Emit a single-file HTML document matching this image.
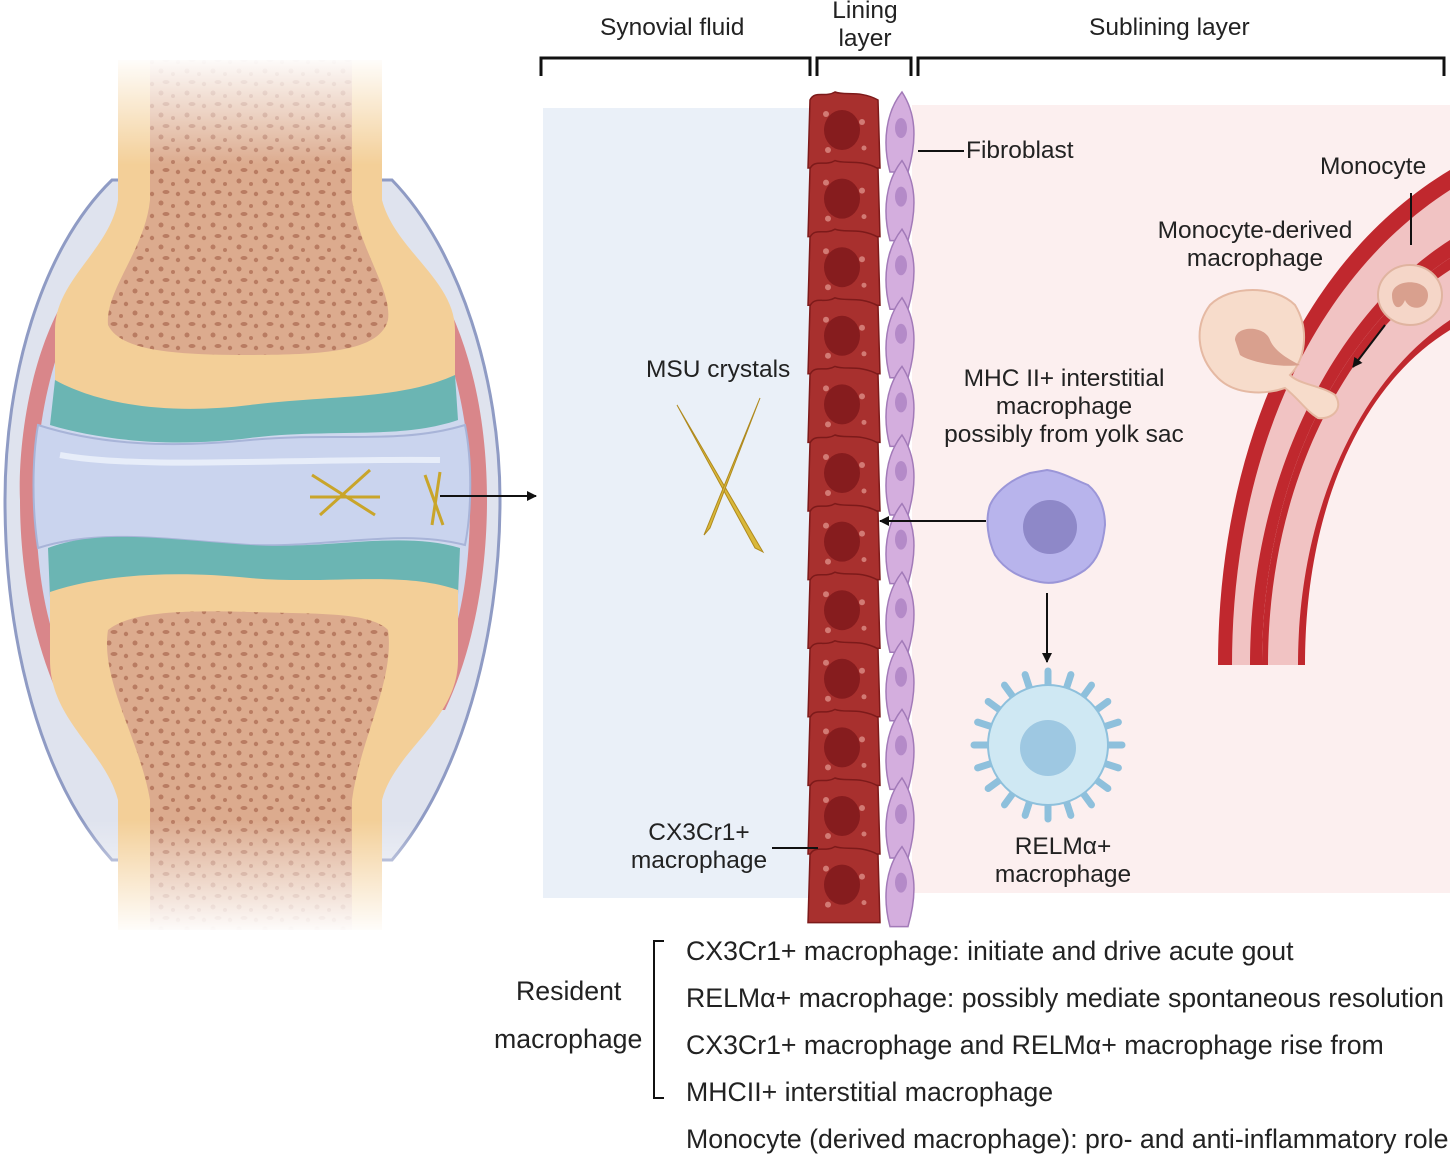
<!DOCTYPE html>
<html><head><meta charset="utf-8"><style>
html,body{margin:0;padding:0;background:#fff;}
body{width:1456px;height:1156px;overflow:hidden;position:relative;font-family:"Liberation Sans",sans-serif;color:#222;}
svg{position:absolute;left:0;top:0;}
.t{position:absolute;font-size:24.5px;line-height:28px;white-space:nowrap;color:#222;}
.c{text-align:center;}
.b{position:absolute;font-size:26.7px;white-space:nowrap;color:#222;}
</style></head><body>
<svg id="s" width="1456" height="1156" viewBox="0 0 1456 1156">
<defs>
<linearGradient id="fadeT" x1="0" y1="0" x2="0" y2="1"><stop offset="0" stop-color="#fff" stop-opacity="1"/><stop offset="1" stop-color="#fff" stop-opacity="0"/></linearGradient>
<linearGradient id="fadeB" x1="0" y1="0" x2="0" y2="1"><stop offset="0" stop-color="#fff" stop-opacity="0"/><stop offset="1" stop-color="#fff" stop-opacity="1"/></linearGradient>
<pattern id="sp" width="26" height="22" patternUnits="userSpaceOnUse">
<rect width="26" height="22" fill="#dcab8e"/>
<circle cx="5" cy="5" r="2.5" fill="#b97c62"/><circle cx="17" cy="8" r="2" fill="#b97c62"/><ellipse cx="10" cy="16" rx="3.5" ry="2" fill="#b97c62"/><circle cx="22" cy="18" r="2.2" fill="#b97c62"/>
</pattern>
<marker id="ah" markerWidth="10" markerHeight="10" refX="9" refY="5" orient="auto" markerUnits="userSpaceOnUse"><path d="M0,0 L10,5 L0,10 Z" fill="#111"/></marker>
</defs>
<!-- joint capsule -->
<path d="M112,180 C40,250 5,380 5,500 C5,640 40,780 112,860 L392,860 C460,780 500,640 500,500 C500,380 460,250 392,180 Z" fill="#dfe3ee" stroke="#8f9bc4" stroke-width="3"/>
<path d="M70,290 C25,360 18,460 20,500 C20,560 30,640 65,710 L445,710 C478,640 487,560 487,500 C487,440 478,360 440,290 Z" fill="#d9868a"/>
<path d="M75,310 C42,380 36,450 36,500 C36,570 45,630 75,690 L432,690 C462,630 470,570 470,500 C470,440 462,380 432,310 Z" fill="#cfd8ee"/>
<!-- upper bone -->
<path d="M118,60 L382,60 L382,200 C395,250 455,280 455,330 L455,385 C400,405 330,400 250,410 C170,420 100,410 55,390 L55,330 C55,280 110,250 118,200 Z" fill="#f3cf98"/>
<path d="M150,60 L352,60 L352,200 C360,250 392,290 388,320 C380,350 330,355 250,355 C170,355 120,350 108,325 C105,290 145,250 150,200 Z" fill="url(#sp)"/>
<path d="M55,380 C100,405 170,415 250,405 C330,395 400,400 455,375 L458,420 C400,440 330,428 250,438 C170,448 100,440 50,425 Z" fill="#6bb5b3"/>
<!-- joint space -->
<path d="M38,425 C100,445 170,448 250,440 C330,432 400,445 465,425 C472,460 472,510 465,545 C400,528 330,548 250,545 C170,540 100,528 38,548 C32,510 32,460 38,425 Z" fill="#cad4ee" stroke="#a8b4d8" stroke-width="2"/>
<path d="M60,455 C140,470 300,458 440,460" stroke="#eef2fb" stroke-width="6" fill="none" opacity="0.8"/>
<!-- lower bone -->
<path d="M48,548 C100,528 170,540 250,545 C330,550 400,530 460,548 L458,595 C400,575 330,588 250,582 C170,576 100,580 50,598 Z" fill="#6bb5b3"/>
<path d="M50,592 C100,575 170,570 250,578 C330,585 400,570 458,590 L458,660 C458,720 395,750 382,800 L382,930 L118,930 L118,800 C105,750 50,720 50,660 Z" fill="#f3cf98"/>
<path d="M108,630 C130,612 180,610 250,612 C320,614 370,612 388,630 C395,680 360,740 352,800 L352,930 L150,930 L150,800 C140,740 100,680 108,630 Z" fill="url(#sp)"/>
<rect x="0" y="55" width="500" height="110" fill="url(#fadeT)"/>
<rect x="0" y="820" width="500" height="115" fill="url(#fadeB)"/>
<!-- crystals in joint -->
<g stroke="#c9a52a" stroke-width="3"><line x1="312" y1="475" x2="375" y2="515"/><line x1="320" y1="515" x2="370" y2="470"/><line x1="310" y1="497" x2="380" y2="497"/><line x1="425" y1="475" x2="443" y2="525"/><line x1="432" y1="525" x2="440" y2="472"/></g>
<line x1="440" y1="496" x2="536" y2="496" stroke="#111" stroke-width="2" marker-end="url(#ah)"/>
<!-- panels -->
<rect x="543" y="108" width="270" height="790" fill="#eaf0f8"/>
<rect x="912" y="105" width="538" height="788" fill="#fcefef"/>
<!-- brackets -->
<g stroke="#111" stroke-width="3" fill="none">
<path d="M541,76 V58 H810 V76"/><path d="M817,76 V58 H911 V76"/><path d="M918,76 V58 H1444 V76"/></g>
<!-- MSU crystals -->
<g fill="#d9b83a" stroke="#b08a1e" stroke-width="1"><path d="M677,405 L763,552 L755,548 Z"/><path d="M760,398 L704,535 L710,528 Z"/></g>
<g id="cells"></g>
<!-- vessel -->
<path d="M1218,665 C1218,450 1300,260 1450,170 L1450,258 C1340,330 1262,480 1262,665 Z" fill="#c0282e"/>
<path d="M1232,665 C1232,460 1310,280 1450,190 L1450,240 C1340,310 1250,470 1250,665 Z" fill="#f1c3c3"/>
<path d="M1262,665 C1262,480 1340,330 1450,258 L1450,330 C1360,385 1305,510 1305,665 Z" fill="#c0282e"/>
<path d="M1268,665 C1268,485 1345,338 1450,270 L1450,320 C1360,380 1298,510 1298,665 Z" fill="#f1c3c3"/>
<!-- monocyte -->
<ellipse cx="1410" cy="295" rx="32" ry="30" fill="#f5d6c8" stroke="#e0b4a0" stroke-width="2"/>
<path d="M1392,295 C1392,278 1428,278 1428,295 C1428,310 1410,312 1405,300 C1400,312 1392,308 1392,295Z" fill="#d9a08e"/>
<line x1="1411" y1="193" x2="1411" y2="245" stroke="#111" stroke-width="2"/>
<line x1="1385" y1="325" x2="1353" y2="367" stroke="#111" stroke-width="2" marker-end="url(#ah)"/>
<!-- monocyte-derived macrophage -->
<path d="M1210,305 C1230,285 1275,285 1295,305 C1310,330 1305,360 1290,375 C1300,385 1320,385 1335,395 C1345,410 1330,420 1318,418 C1305,410 1300,400 1285,388 C1265,395 1235,395 1218,378 C1195,355 1195,325 1210,305 Z" fill="#f7dccb" stroke="#e5b9a3" stroke-width="2"/>
<path d="M1235,340 C1235,325 1265,325 1270,340 C1275,352 1290,360 1300,365 C1280,368 1250,362 1240,355 Z" fill="#d9a08e"/>
<!-- MHC II macrophage -->
<path d="M1047,470 C1062,472 1075,480 1088,485 C1100,495 1105,510 1105,525 C1103,545 1098,560 1085,570 C1070,580 1055,585 1040,582 C1020,578 1005,570 995,555 C988,540 985,520 990,505 C998,488 1015,478 1030,473 Z" fill="#b8b4ec" stroke="#9b96d8" stroke-width="2"/>
<circle cx="1050" cy="527" r="27" fill="#8e88c8"/>
<line x1="986" y1="521" x2="880" y2="521" stroke="#111" stroke-width="2" marker-end="url(#ah)"/>
<line x1="1047" y1="593" x2="1047" y2="662" stroke="#111" stroke-width="2" marker-end="url(#ah)"/>
<!-- RELM macrophage -->
<g id="relm"><circle cx="1048" cy="745" r="60" fill="#cfe8f3" stroke="#8ec0dc" stroke-width="2"/><circle cx="1048" cy="748" r="28" fill="#9ec8e2"/></g>
<line x1="918" y1="151" x2="964" y2="151" stroke="#111" stroke-width="2"/>
<line x1="772" y1="848" x2="818" y2="848" stroke="#111" stroke-width="2"/>
<path d="M664,941 H654 V1098 H664" stroke="#111" stroke-width="2" fill="none"/>
</svg>
<script>
var g=document.getElementById('cells'),h='';
for(var i=0;i<12;i++){var y=92+i*68.6;
h+='<path d="M810,'+(y+8)+' C815,'+(y-2)+' 825,'+(y+6)+' 835,'+(y)+' C845,'+(y+4)+' 860,'+(y-2)+' 878,'+(y+8)+' L880,'+(y+76)+' L808,'+(y+76)+' Z" fill="#a8302e" stroke="#7d1a1a" stroke-width="1.5"/>';
h+='<ellipse cx="842" cy="'+(y+38)+'" rx="18" ry="20" fill="#861c1e"/>';
h+='<circle cx="826" cy="'+(y+22)+'" r="3" fill="#d27a74"/><circle cx="862" cy="'+(y+30)+'" r="3" fill="#d27a74"/><circle cx="828" cy="'+(y+58)+'" r="3" fill="#d27a74"/><circle cx="864" cy="'+(y+56)+'" r="2.5" fill="#d27a74"/>';
h+='<path d="M902,'+(y)+' C915,'+(y+20)+' 918,'+(y+45)+' 908,'+(y+80)+' L890,'+(y+80)+' C882,'+(y+50)+' 886,'+(y+20)+' 902,'+(y)+' Z" fill="#d4aede" stroke="#a27ab8" stroke-width="1.5"/>';
h+='<ellipse cx="901" cy="'+(y+36)+'" rx="6" ry="10" fill="#b48ac8"/>';}
g.innerHTML=h;
var r=document.getElementById('relm'),s='';
for(var a=0;a<20;a++){var t=a*Math.PI/10,x1=1048+58*Math.cos(t),y1=745+58*Math.sin(t),x2=1048+74*Math.cos(t),y2=745+74*Math.sin(t);
s+='<line x1="'+x1+'" y1="'+y1+'" x2="'+x2+'" y2="'+y2+'" stroke="#8ec0dc" stroke-width="7" stroke-linecap="round"/>';}
r.innerHTML=s+r.innerHTML;
</script>
<div class="t" style="left:600px;top:14px;">Synovial fluid</div>
<div class="t c" style="left:815px;top:-3px;width:100px;">Lining<br>layer</div>
<div class="t" style="left:1089px;top:14px;">Sublining layer</div>
<div class="t" style="left:966px;top:137px;">Fibroblast</div>
<div class="t" style="left:1320px;top:153px;">Monocyte</div>
<div class="t c" style="left:1150px;top:217px;width:210px;">Monocyte-derived<br>macrophage</div>
<div class="t" style="left:646px;top:356px;">MSU crystals</div>
<div class="t c" style="left:920px;top:365px;width:288px;">MHC II+ interstitial<br>macrophage<br>possibly from yolk sac</div>
<div class="t c" style="left:615px;top:819px;width:168px;">CX3Cr1+<br>macrophage</div>
<div class="t c" style="left:975px;top:833px;width:176px;">RELMα+<br>macrophage</div>
<div class="b" style="left:516px;top:976px;">Resident</div>
<div class="b" style="left:494px;top:1024px;">macrophage</div>
<div class="b" style="left:686px;top:936px;">CX3Cr1+ macrophage: initiate and drive acute gout</div>
<div class="b" style="left:686px;top:983px;">RELMα+ macrophage: possibly mediate spontaneous resolution</div>
<div class="b" style="left:686px;top:1030px;">CX3Cr1+ macrophage and RELMα+ macrophage rise from</div>
<div class="b" style="left:686px;top:1077px;">MHCII+ interstitial macrophage</div>
<div class="b" style="left:686px;top:1124px;">Monocyte (derived macrophage): pro- and anti-inflammatory role</div>
</body></html>
